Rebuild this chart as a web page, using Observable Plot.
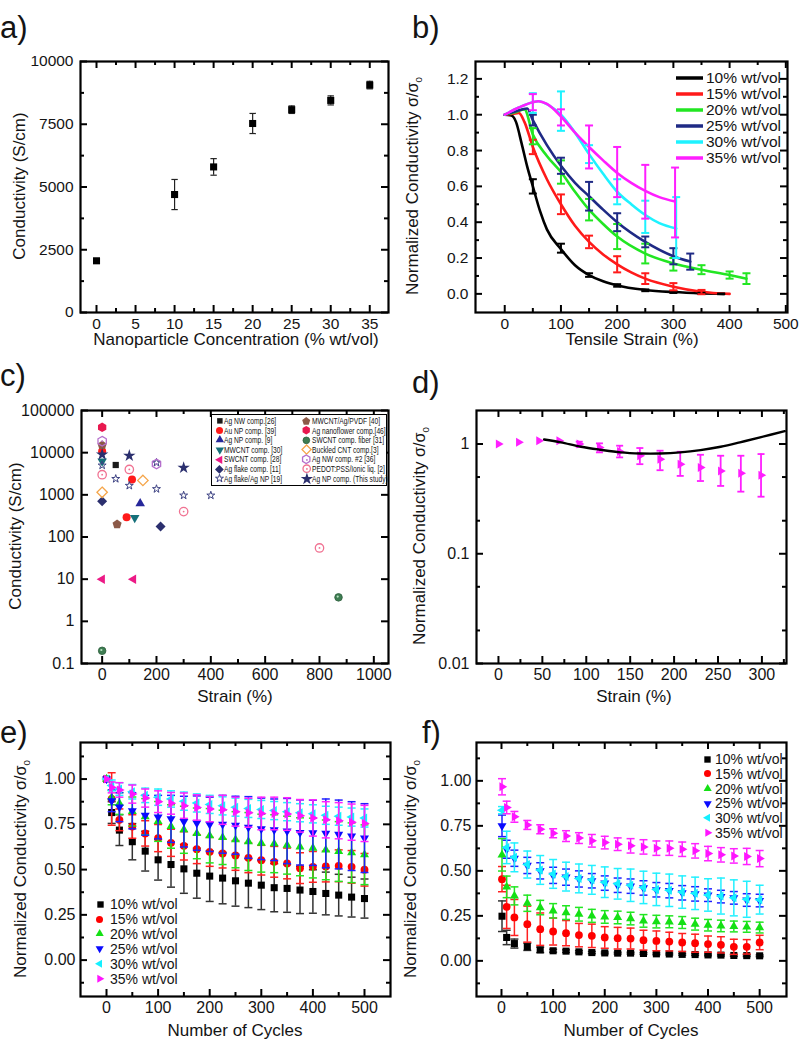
<!DOCTYPE html>
<html><head><meta charset="utf-8">
<script src="https://cdn.jsdelivr.net/npm/d3@7"></script>
<script src="https://cdn.jsdelivr.net/npm/@observablehq/plot@0.6"></script>
<style>
body{margin:0;background:#fff;}
#fig{position:relative;width:800px;height:1042px;font-family:"Liberation Sans",Arial,sans-serif;color:#141414;overflow:hidden;background:#fff}
.t{position:absolute;white-space:nowrap;line-height:1}
</style></head><body><div id="fig"></div>
<script>
// ---------------- DATA ----------------
const seriesLabels = ["10% wt/vol","15% wt/vol","20% wt/vol","25% wt/vol","30% wt/vol","35% wt/vol"];

// (a) conductivity vs concentration
const aConc = [0, 10, 15, 20, 25, 30, 35];
const aCond = [2060, 4700, 5800, 7530, 8080, 8450, 9060];
const aErr  = [60, 600, 330, 400, 150, 180, 150];
const aXTicks = [0, 5, 10, 15, 20, 25, 30, 35];
const aYTicks = [0, 2500, 5000, 7500, 10000];

// (b) normalized conductivity vs tensile strain (fitted curves + error points)
const bStrain10 = [0, 12, 20, 30, 40, 50, 63, 75, 100, 125, 150, 175, 200, 250, 300, 350, 390];
const bNorm10   = [1.0, 0.995, 0.96, 0.84, 0.71, 0.60, 0.46, 0.36, 0.25, 0.16, 0.105, 0.07, 0.047, 0.022, 0.01, 0.003, 0.0];
const bStrain15 = [0, 15, 25, 35, 50, 75, 100, 125, 150, 175, 200, 225, 250, 300, 350, 400];
const bNorm15   = [1.0, 1.005, 1.01, 0.96, 0.82, 0.64, 0.50, 0.38, 0.29, 0.22, 0.165, 0.12, 0.085, 0.04, 0.012, 0.0];
const bStrain20 = [0, 20, 35, 50, 75, 100, 125, 150, 175, 200, 250, 300, 350, 400, 430];
const bNorm20   = [1.0, 1.015, 1.03, 0.89, 0.77, 0.68, 0.57, 0.47, 0.39, 0.32, 0.225, 0.17, 0.135, 0.105, 0.085];
const bStrain25 = [0, 20, 40, 50, 75, 100, 125, 150, 175, 200, 250, 300, 330];
const bNorm25   = [1.0, 1.02, 1.035, 0.97, 0.83, 0.715, 0.62, 0.545, 0.47, 0.40, 0.29, 0.21, 0.18];
const bStrain30 = [0, 25, 50, 60, 80, 100, 125, 150, 175, 200, 225, 250, 275, 305];
const bNorm30   = [1.0, 1.04, 1.07, 1.075, 1.05, 1.0, 0.90, 0.78, 0.67, 0.57, 0.50, 0.44, 0.395, 0.365];
const bStrain35 = [0, 25, 50, 60, 75, 100, 125, 150, 175, 200, 225, 250, 275, 303];
const bNorm35   = [1.0, 1.04, 1.07, 1.075, 1.06, 0.99, 0.90, 0.82, 0.745, 0.675, 0.62, 0.575, 0.54, 0.515];
const bErrX = [
  [50, 100, 150, 200, 250, 300, 350, 385],
  [50, 100, 150, 200, 250, 300, 350],
  [50, 100, 150, 200, 250, 300, 350, 400, 430],
  [50, 100, 150, 200, 250, 300, 330],
  [50, 100, 150, 200, 250, 305],
  [50, 100, 150, 200, 250, 303]
];
const bErrY = [
  [0.60, 0.255, 0.105, 0.047, 0.02, 0.01, 0.003, 0.0],
  [0.82, 0.50, 0.29, 0.165, 0.085, 0.04, 0.01],
  [0.88, 0.68, 0.47, 0.32, 0.225, 0.165, 0.135, 0.105, 0.085],
  [0.97, 0.715, 0.545, 0.40, 0.29, 0.21, 0.18],
  [1.065, 1.02, 0.78, 0.57, 0.43, 0.37],
  [1.07, 0.985, 0.82, 0.68, 0.57, 0.51]
];
const bErrSd = [
  [0.04, 0.025, 0.01, 0.007, 0.005, 0.005, 0.003, 0.002],
  [0.04, 0.055, 0.035, 0.045, 0.03, 0.02, 0.012],
  [0.045, 0.065, 0.06, 0.07, 0.055, 0.035, 0.025, 0.02, 0.03],
  [0.03, 0.045, 0.08, 0.05, 0.03, 0.045, 0.045],
  [0.055, 0.11, 0.05, 0.07, 0.09, 0.17],
  [0.045, 0.045, 0.12, 0.14, 0.15, 0.195]
];

// (c) literature comparison
const cLabels = ["Ag NW comp.[26]", "Au NP comp. [39]", "Ag NP comp. [9]", "MWCNT comp. [30]", "SWCNT comp. [28]",
  "Ag flake comp. [11]", "Ag flake/Ag NP [19]", "MWCNT/Ag/PVDF [40]", "Ag nanoflower comp.[46]", "SWCNT comp. fiber [31]",
  "Buckled CNT comp.[3]", "Ag NW comp. #2 [36]", "PEDOT:PSS/Ionic liq. [2]", "Ag NP comp. (This study)"];
const cStrain = [[50], [0, 110, 90], [140], [0, 120], [0, 115], [0, 215], [0, 50, 100, 200, 200, 300, 400],
  [0, 55], [0], [0, 870], [0, 150], [0, 200], [0, 100, 300, 800], [0, 100, 300]];
const cCond = [[5100], [10800, 2300, 295], [620], [6300, 285], [10, 10], [700, 178], [5000, 2400, 1650, 5800, 1380, 970, 970],
  [15000, 200], [40000], [0.2, 3.7], [1150, 2200], [18700, 5400], [3000, 4000, 400, 55], [9000, 8500, 4400]];
const cXTicks = [0, 200, 400, 600, 800, 1000];
const cYTicks = [0.1, 1, 10, 100, 1000, 10000, 100000];

// (d) model vs measurement
const dStrain = [0, 23, 46, 69, 92, 115, 138, 161, 184, 207, 230, 253, 276, 299];
const dNorm   = [1.0, 1.036, 1.073, 1.073, 1.0, 0.93, 0.856, 0.78, 0.728, 0.655, 0.611, 0.569, 0.542, 0.52];
const dLow    = [1.0, 1.036, 1.073, 1.073, 0.945, 0.839, 0.755, 0.655, 0.577, 0.512, 0.46, 0.415, 0.368, 0.331];
const dHigh   = [1.0, 1.036, 1.073, 1.073, 1.05, 1.014, 0.965, 0.919, 0.869, 0.85, 0.798, 0.782, 0.782, 0.81];
const dModelStrain = [52, 71, 94, 116, 139, 162, 184, 207, 230, 253, 275, 298, 326];
const dModelNorm   = [1.10, 1.036, 0.945, 0.887, 0.839, 0.82, 0.82, 0.839, 0.88, 0.945, 1.036, 1.15, 1.31];

// (e) cycling, series
const eCycles = [0, 10, 25, 50, 75, 100, 125, 150, 175, 200, 225, 250, 275, 300, 325, 350, 375, 400, 425, 450, 475, 500];
const e10 = [1.0, 0.815, 0.718, 0.654, 0.602, 0.554, 0.528, 0.504, 0.48, 0.464, 0.453, 0.438, 0.425, 0.414, 0.40, 0.396, 0.387, 0.379, 0.368, 0.359, 0.348, 0.34];
const e10sd = [0, 0.06, 0.085, 0.10, 0.11, 0.112, 0.125, 0.135, 0.138, 0.14, 0.142, 0.14, 0.135, 0.135, 0.133, 0.132, 0.13, 0.12, 0.118, 0.115, 0.11, 0.108];
const e15 = [1.0, 0.89, 0.775, 0.738, 0.70, 0.674, 0.648, 0.631, 0.613, 0.598, 0.589, 0.578, 0.565, 0.552, 0.543, 0.534, 0.508, 0.515, 0.517, 0.521, 0.515, 0.499];
const e15sd = [0, 0.145, 0.06, 0.065, 0.07, 0.075, 0.075, 0.078, 0.08, 0.08, 0.08, 0.082, 0.082, 0.082, 0.085, 0.085, 0.085, 0.085, 0.085, 0.088, 0.09, 0.09];
const e20 = [1.0, 0.898, 0.865, 0.821, 0.792, 0.766, 0.738, 0.72, 0.70, 0.687, 0.678, 0.665, 0.655, 0.646, 0.643, 0.635, 0.626, 0.619, 0.609, 0.60, 0.593, 0.582];
const e20sd = [0, 0.04, 0.06, 0.08, 0.1, 0.11, 0.12, 0.13, 0.14, 0.15, 0.15, 0.155, 0.16, 0.16, 0.16, 0.16, 0.16, 0.165, 0.165, 0.165, 0.165, 0.165];
const e25 = [1.0, 0.88, 0.845, 0.825, 0.80, 0.79, 0.78, 0.765, 0.757, 0.75, 0.75, 0.745, 0.733, 0.725, 0.72, 0.713, 0.705, 0.703, 0.70, 0.694, 0.685, 0.674];
const e25sd = [0, 0.06, 0.08, 0.1, 0.11, 0.12, 0.13, 0.14, 0.15, 0.15, 0.16, 0.16, 0.17, 0.17, 0.17, 0.18, 0.18, 0.18, 0.19, 0.19, 0.19, 0.19];
const e30 = [1.0, 0.965, 0.945, 0.93, 0.91, 0.90, 0.89, 0.878, 0.868, 0.86, 0.852, 0.845, 0.838, 0.832, 0.826, 0.82, 0.814, 0.808, 0.80, 0.795, 0.79, 0.785];
const e30sd = [0, 0.03, 0.035, 0.04, 0.04, 0.045, 0.045, 0.05, 0.05, 0.05, 0.05, 0.05, 0.05, 0.05, 0.05, 0.05, 0.05, 0.05, 0.05, 0.05, 0.05, 0.05];
const e35 = [1.0, 0.954, 0.94, 0.917, 0.895, 0.875, 0.866, 0.853, 0.843, 0.834, 0.83, 0.82, 0.814, 0.81, 0.81, 0.807, 0.797, 0.785, 0.775, 0.77, 0.762, 0.755];
const e35sd = [0, 0.03, 0.04, 0.05, 0.05, 0.06, 0.06, 0.07, 0.07, 0.07, 0.08, 0.08, 0.08, 0.09, 0.09, 0.09, 0.09, 0.1, 0.1, 0.1, 0.1, 0.1];

// (f) cycling, series
const fCycles = [1, 10, 25, 50, 75, 100, 125, 150, 175, 200, 225, 250, 275, 300, 325, 350, 375, 400, 425, 450, 475, 500];
const f10 = [0.248, 0.13, 0.096, 0.078, 0.061, 0.056, 0.054, 0.05, 0.046, 0.044, 0.043, 0.043, 0.041, 0.039, 0.038, 0.036, 0.035, 0.033, 0.032, 0.03, 0.029, 0.028];
const f10sd = [0.085, 0.04, 0.025, 0.02, 0.015, 0.008, 0.007, 0.006, 0.006, 0.005, 0.005, 0.005, 0.005, 0.005, 0.005, 0.005, 0.005, 0.005, 0.005, 0.005, 0.005, 0.005];
const f15 = [0.454, 0.30, 0.241, 0.204, 0.176, 0.163, 0.154, 0.143, 0.139, 0.13, 0.126, 0.124, 0.115, 0.111, 0.107, 0.102, 0.098, 0.093, 0.089, 0.078, 0.078, 0.102];
const f15sd = [0.07, 0.12, 0.1, 0.1, 0.09, 0.075, 0.07, 0.065, 0.065, 0.06, 0.06, 0.058, 0.055, 0.055, 0.052, 0.05, 0.05, 0.045, 0.045, 0.042, 0.04, 0.04];
const f20 = [0.589, 0.411, 0.361, 0.32, 0.296, 0.278, 0.268, 0.259, 0.25, 0.244, 0.241, 0.235, 0.222, 0.218, 0.217, 0.213, 0.204, 0.198, 0.194, 0.191, 0.189, 0.185];
const f20sd = [0.09, 0.06, 0.05, 0.045, 0.04, 0.04, 0.038, 0.038, 0.036, 0.035, 0.035, 0.035, 0.035, 0.035, 0.033, 0.033, 0.033, 0.032, 0.032, 0.03, 0.03, 0.03];
const f25 = [0.75, 0.62, 0.57, 0.53, 0.50, 0.475, 0.465, 0.455, 0.445, 0.432, 0.42, 0.415, 0.405, 0.395, 0.39, 0.378, 0.372, 0.365, 0.357, 0.35, 0.338, 0.335];
const f25sd = [0.06, 0.05, 0.045, 0.045, 0.045, 0.045, 0.045, 0.045, 0.04, 0.04, 0.04, 0.04, 0.04, 0.04, 0.04, 0.04, 0.04, 0.035, 0.035, 0.035, 0.035, 0.035];
const f30 = [0.837, 0.63, 0.575, 0.535, 0.505, 0.483, 0.468, 0.458, 0.45, 0.437, 0.428, 0.42, 0.408, 0.397, 0.392, 0.382, 0.375, 0.366, 0.36, 0.35, 0.342, 0.34];
const f30sd = [0.02, 0.09, 0.08, 0.075, 0.08, 0.08, 0.08, 0.08, 0.08, 0.085, 0.085, 0.09, 0.09, 0.09, 0.09, 0.09, 0.09, 0.09, 0.1, 0.1, 0.1, 0.08];
const f35 = [0.967, 0.852, 0.80, 0.755, 0.731, 0.709, 0.693, 0.682, 0.667, 0.657, 0.648, 0.639, 0.633, 0.626, 0.626, 0.62, 0.611, 0.596, 0.589, 0.583, 0.58, 0.568];
const f35sd = [0.045, 0.035, 0.03, 0.025, 0.025, 0.025, 0.03, 0.03, 0.035, 0.035, 0.035, 0.04, 0.04, 0.04, 0.04, 0.04, 0.04, 0.04, 0.04, 0.04, 0.045, 0.045];

// ---------------- HELPERS ----------------
const fig = document.getElementById("fig");
const FONT = '"Liberation Sans", Arial, sans-serif';
function poly(n, rot, scale = 1) {
  return {draw(ctx, size) {
    const r = Math.sqrt(size / Math.PI) * scale;
    for (let k = 0; k < n; k++) {
      const a = rot + k * 2 * Math.PI / n, px = r * Math.cos(a), py = r * Math.sin(a);
      if (k === 0) ctx.moveTo(px, py); else ctx.lineTo(px, py);
    }
    ctx.closePath();
  }};
}
const SYM = {
  triUp: poly(3, -Math.PI / 2), triDown: poly(3, Math.PI / 2), triLeft: poly(3, Math.PI), triRight: poly(3, 0),
  pentagon: poly(5, -Math.PI / 2), hexagon: poly(6, -Math.PI / 2), diamond: poly(4, -Math.PI / 2), square: poly(4, Math.PI / 4),
  circle: d3.symbolCircle, star: d3.symbolStar,
  cap: {draw(ctx, size) { const r = Math.sqrt(size / Math.PI); ctx.moveTo(-r, 0); ctx.lineTo(r, 0); }}
};
const str = d => String(d);

// inward frame ticks on all four sides, lengths converted from pixels through the scale domains
function frameMarks(cfg) {
  const {w, h, m, xdom, ydom, xlog = false, ylog = false, xMaj, xMin, yMaj, yMin, xFmt, yFmt, xPad = 5, yPad = 7, fs = 15.5} = cfg;
  const iw = w - m.left - m.right, ih = h - m.top - m.bottom;
  const fx = xlog ? Math.log10 : v => v, gx = xlog ? v => 10 ** v : v => v;
  const fy = ylog ? Math.log10 : v => v, gy = ylog ? v => 10 ** v : v => v;
  const [xa, xb] = xdom.map(fx), [ya, yb] = ydom.map(fy);
  const kx = (xb - xa) / iw, ky = (yb - ya) / ih;
  const st = {stroke: "#000", strokeWidth: 2};
  const out = [];
  for (const [vals, L] of [[xMaj, 7], [xMin, 4]]) {
    out.push(Plot.ruleX(vals, {x: d => d, y1: () => ydom[0], y2: () => gy(ya + L * ky), ...st}));
    out.push(Plot.ruleX(vals, {x: d => d, y1: () => gy(yb - L * ky), y2: () => ydom[1], ...st}));
  }
  for (const [vals, L] of [[yMaj, 7], [yMin, 4]]) {
    out.push(Plot.ruleY(vals, {y: d => d, x1: () => xdom[0], x2: () => gx(xa + L * kx), ...st}));
    out.push(Plot.ruleY(vals, {y: d => d, x1: () => gx(xb - L * kx), x2: () => xdom[1], ...st}));
  }
  out.push(Plot.axisX(xMaj, {tickSize: 0, tickPadding: xPad, tickFormat: xFmt, label: null, fontSize: fs}));
  out.push(Plot.axisY(yMaj, {tickSize: 0, tickPadding: yPad, tickFormat: yFmt, label: null, fontSize: fs}));
  out.push(Plot.frame({stroke: "#000", strokeWidth: 2.2}));
  return out;
}
function errBars(data, color, capR, sw = 1.4) {
  const d = data.filter(p => p.e > 0);
  return [
    Plot.ruleX(d, {x: "x", y1: p => p.y - p.e, y2: p => p.y + p.e, stroke: color, strokeWidth: sw}),
    Plot.dot(d, {x: "x", y: p => p.y - p.e, symbol: SYM.cap, r: capR, stroke: color, fill: "none", strokeWidth: sw}),
    Plot.dot(d, {x: "x", y: p => p.y + p.e, symbol: SYM.cap, r: capR, stroke: color, fill: "none", strokeWidth: sw})
  ];
}
function mount(svg, left, top) {
  svg.style.position = "absolute"; svg.style.left = left + "px"; svg.style.top = top + "px";
  fig.appendChild(svg);
}
function text(html, x, y, {size = 17, rotate = false, anchor = "middle"} = {}) {
  const el = document.createElement("div");
  el.className = "t"; el.innerHTML = html; el.style.fontSize = size + "px";
  el.style.left = x + "px"; el.style.top = y + "px";
  if (rotate) el.style.transform = "translate(-50%,-50%) rotate(-90deg)";
  else if (anchor === "middle") el.style.transform = "translate(-50%,-50%)";
  else if (anchor === "start") el.style.transform = "translate(0,-50%)";
  else el.style.transform = "none";
  fig.appendChild(el);
  return el;
}
function marker(x, y, sym, r, fill, stroke, sw = 1) {
  const s = d3.create("svg").attr("width", 2 * r + 8).attr("height", 2 * r + 8)
    .style("position", "absolute").style("left", (x - r - 4) + "px").style("top", (y - r - 4) + "px").style("overflow", "visible");
  s.append("path").attr("transform", `translate(${r + 4},${r + 4})`).attr("d", d3.symbol(sym, Math.PI * r * r)())
    .attr("fill", fill).attr("stroke", stroke).attr("stroke-width", sw);
  fig.appendChild(s.node());
  return s;
}
const baseStyle = {fontFamily: FONT, fontSize: "15.5px", color: "#141414", background: "transparent", overflow: "visible"};
const SIGMA = 'Normalized Conductivity <span style="font-size:0.95em">σ/σ<sub style="font-size:0.6em">0</sub></span>';

// ---------------- PANEL A ----------------
{
  const w = 400, h = 345, m = {top: 61, right: 12, bottom: 33, left: 80};
  const xdom = [-2.05, 37.4], ydom = [0, 10000];
  const data = aConc.map((x, i) => ({x, y: aCond[i], e: aErr[i]}));
  const svg = Plot.plot({
    width: w, height: h, marginTop: m.top, marginRight: m.right, marginBottom: m.bottom, marginLeft: m.left,
    style: baseStyle, x: {domain: xdom}, y: {domain: ydom},
    marks: [
      ...frameMarks({w, h, m, xdom, ydom, xMaj: aXTicks, xMin: [2.5, 7.5, 12.5, 17.5, 22.5, 27.5, 32.5], yMaj: aYTicks, yMin: [1250, 3750, 6250, 8750], xFmt: str, yFmt: str}),
      ...errBars(data, "#222", 3.2, 1.2),
      Plot.dot(data, {x: "x", y: "y", symbol: SYM.square, r: 5, fill: "#000", stroke: "none"})
    ]
  });
  mount(svg, 0, 0);
  text("a)", 0, 12, {size: 31, anchor: "none"});
  text("Nanoparticle Concentration (% wt/vol)", 236, 339);
  text("Conductivity (S/cm)", 19, 186, {rotate: true});
}

// ---------------- PANEL B ----------------
const bColors = ["#000000", "#ff1a1a", "#22e622", "#1f2a85", "#1ef2ff", "#ff1eff"];
{
  const w = 400, h = 345, m = {top: 61, right: 13, bottom: 33, left: 75};
  const xdom = [-52, 503], ydom = [-0.104, 1.297];
  const curves = [[bStrain10, bNorm10], [bStrain15, bNorm15], [bStrain20, bNorm20], [bStrain25, bNorm25], [bStrain30, bNorm30], [bStrain35, bNorm35]];
  const marks = [...frameMarks({w, h, m, xdom, ydom, xMaj: [0, 100, 200, 300, 400, 500], xMin: [50, 150, 250, 350, 450],
    yMaj: [0, 0.2, 0.4, 0.6, 0.8, 1.0, 1.2], yMin: [0.1, 0.3, 0.5, 0.7, 0.9, 1.1], xFmt: str, yFmt: d3.format(".1f")})];
  curves.forEach(([xs, ys], k) => {
    marks.push(Plot.line(xs.map((x, i) => ({x, y: ys[i]})), {x: "x", y: "y", stroke: bColors[k], strokeWidth: 2.6, curve: "monotone-x"}));
  });
  curves.forEach((c, k) => {
    const ed = bErrX[k].map((x, i) => ({x, y: bErrY[k][i], e: bErrSd[k][i]}));
    marks.push(...errBars(ed, bColors[k], 4, 2));
  });
  const svg = Plot.plot({width: w, height: h, marginTop: m.top, marginRight: m.right, marginBottom: m.bottom, marginLeft: m.left,
    style: baseStyle, x: {domain: xdom}, y: {domain: ydom}, marks});
  mount(svg, 400, 0);
  text("b)", 412, 12, {size: 31, anchor: "none"});
  text("Tensile Strain (%)", 632, 339);
  text(SIGMA, 414, 186, {rotate: true});
  seriesLabels.forEach((lab, i) => {
    const y = 77.7 + 16.1 * i;
    const s = d3.create("svg").attr("width", 30).attr("height", 6).style("position", "absolute").style("left", "675px").style("top", (y - 3) + "px");
    s.append("line").attr("x1", 1).attr("x2", 28).attr("y1", 3).attr("y2", 3).attr("stroke", bColors[i]).attr("stroke-width", 3.5);
    fig.appendChild(s.node());
    text(lab, 706, y, {size: 15.5, anchor: "start"});
  });
}

// ---------------- PANEL C ----------------
const cStyle = [
  {sym: SYM.square, r: 4.4, fill: "#1a1a1a", stroke: "none"},
  {sym: SYM.circle, r: 4, fill: "#ff1a1a", stroke: "none"},
  {sym: SYM.triUp, r: 5.5, fill: "#26279a", stroke: "none"},
  {sym: SYM.triDown, r: 5.5, fill: "#16707a", stroke: "none"},
  {sym: SYM.triLeft, r: 5.5, fill: "#ec1a86", stroke: "none"},
  {sym: SYM.diamond, r: 5, fill: "#2b2f6e", stroke: "none"},
  {sym: SYM.star, r: 2.5, fill: "none", stroke: "#3d4283", sw: 1},
  {sym: SYM.pentagon, r: 4.8, fill: "#8c5a48", stroke: "none"},
  {sym: SYM.hexagon, r: 4.8, fill: "#e8184f", stroke: "none"},
  {sym: SYM.circle, r: 3.8, fill: "#3e7d52", stroke: "#2d5e3c", sw: 0.8},
  {sym: SYM.diamond, r: 5.2, fill: "none", stroke: "#f5a54a", sw: 1.3},
  {sym: SYM.hexagon, r: 4.8, fill: "none", stroke: "#b56fcc", sw: 1.3},
  {sym: SYM.circle, r: 4.2, fill: "none", stroke: "#f07292", sw: 1.3},
  {sym: SYM.star, r: 3.9, fill: "#2b2f6e", stroke: "none"}
];
{
  const w = 400, h = 345, m = {top: 65, right: 12, bottom: 27, left: 81};
  const xdom = [-76, 1054], ydom = [0.1, 100000];
  const marks = [...frameMarks({w, h, m, xdom, ydom, ylog: true, xMaj: cXTicks, xMin: [100, 300, 500, 700, 900],
    yMaj: cYTicks, yMin: [], xFmt: str, yFmt: str, fs: 16})];
  cLabels.forEach((lab, k) => {
    const st = cStyle[k];
    const d = cStrain[k].map((x, i) => ({x, y: cCond[k][i]}));
    marks.push(Plot.dot(d, {x: "x", y: "y", symbol: st.sym, r: st.r, fill: st.fill, stroke: st.stroke, strokeWidth: st.sw || 1}));
    if (k === 11 || k === 12) marks.push(Plot.dot(d, {x: "x", y: "y", r: 0.9, fill: st.stroke}));
    if (k === 9) marks.push(Plot.dot(d, {x: "x", y: "y", r: 1.1, fill: "#b9e3c2", dx: -0.8, dy: -0.8}));
  });
  const svg = Plot.plot({width: w, height: h, marginTop: m.top, marginRight: m.right, marginBottom: m.bottom, marginLeft: m.left,
    style: baseStyle, x: {domain: xdom}, y: {type: "log", domain: ydom}, marks});
  mount(svg, 0, 345);
  text("c)", 0, 360, {size: 31, anchor: "none"});
  text("Strain (%)", 235, 696);
  text("Conductivity (S/cm)", 15, 536, {rotate: true});
  // legend box
  const box = document.createElement("div");
  Object.assign(box.style, {position: "absolute", left: "211px", top: "414px", width: "174px", height: "70px", border: "1.5px solid #000", background: "#fff"});
  fig.appendChild(box);
  cLabels.forEach((lab, k) => {
    const col = k < 7 ? 0 : 1, row = k % 7;
    const y = 421 + 9.6 * row;
    const mx = col === 0 ? 219.5 : 306.5, tx = col === 0 ? 223.5 : 311.5;
    const st = cStyle[k];
    const scale = (k === 13 || k === 6) ? 1.0 : 0.88;
    marker(mx, y, st.sym, st.r * scale, st.fill, st.stroke, st.sw || 1);
    if (k === 11 || k === 12) marker(mx, y, SYM.circle, 0.9, st.stroke, "none");
    const t = text(lab, tx, y, {size: 9, anchor: "start"});
    t.style.transformOrigin = "0 50%";
    t.style.transform = "translate(0,-50%) scaleX(0.74)";
  });
}

// ---------------- PANEL D ----------------
{
  const w = 400, h = 345, m = {top: 65, right: 14, bottom: 27, left: 76};
  const xdom = [-25, 328], ydom = [0.01, 2.02];
  const data = dStrain.map((x, i) => ({x, y: dNorm[i], lo: dLow[i], hi: dHigh[i]}));
  const bars = data.filter(p => p.hi - p.lo > 0.02);
  const marks = [...frameMarks({w, h, m, xdom, ydom, ylog: true, xMaj: [0, 50, 100, 150, 200, 250, 300], xMin: [25, 75, 125, 175, 225, 275, 325],
    yMaj: [0.01, 0.1, 1], yMin: [0.02, 0.05, 0.2, 0.5], xFmt: str, yFmt: str, fs: 16}),
    Plot.ruleX(bars, {x: "x", y1: "lo", y2: "hi", stroke: "#ff1eff", strokeWidth: 1.8}),
    Plot.dot(bars, {x: "x", y: "lo", symbol: SYM.cap, r: 3.5, stroke: "#ff1eff", fill: "none", strokeWidth: 1.8}),
    Plot.dot(bars, {x: "x", y: "hi", symbol: SYM.cap, r: 3.5, stroke: "#ff1eff", fill: "none", strokeWidth: 1.8}),
    Plot.dot(data, {x: "x", y: "y", symbol: SYM.triRight, r: 5.2, fill: "#ff1eff", stroke: "none"}),
    Plot.line(dModelStrain.map((x, i) => ({x, y: dModelNorm[i]})), {x: "x", y: "y", stroke: "#000", strokeWidth: 2.4, curve: "catmull-rom"})
  ];
  const svg = Plot.plot({width: w, height: h, marginTop: m.top, marginRight: m.right, marginBottom: m.bottom, marginLeft: m.left,
    style: baseStyle, x: {domain: xdom}, y: {type: "log", domain: ydom}, marks});
  mount(svg, 400, 345);
  text("d)", 412, 367, {size: 31, anchor: "none"});
  text("Strain (%)", 634, 696);
  text(SIGMA, 421, 536, {rotate: true});
}

// ---------------- PANELS E & F ----------------
const efColors = ["#000000", "#ff0000", "#14e014", "#0a0aff", "#14f0ff", "#ff14ff"];
const efBarColors = ["#333333", "#ff2020", "#22e622", "#2020ff", "#22f0ff", "#ff22ff"];
const efSyms = [[SYM.square, 5], [SYM.circle, 3.9], [SYM.triUp, 5.2], [SYM.triDown, 5.2], [SYM.triLeft, 5.2], [SYM.triRight, 5.2]];
function cyclePanel(cycles, vals, sds, left, m, xdom, ydom) {
  const w = 400, h = 352;
  const marks = [...frameMarks({w, h, m, xdom, ydom, xMaj: [0, 100, 200, 300, 400, 500], xMin: [50, 150, 250, 350, 450],
    yMaj: [0, 0.25, 0.5, 0.75, 1.0], yMin: [-0.125, 0.125, 0.375, 0.625, 0.875, 1.125], xFmt: str, yFmt: d3.format(".2f"), fs: 16, yPad: 5})];
  vals.forEach((v, k) => {
    const d = cycles.map((x, i) => ({x, y: v[i], e: sds[k][i]}));
    marks.push(...errBars(d, efBarColors[k], 4, 1.5));
    marks.push(Plot.dot(d, {x: "x", y: "y", symbol: efSyms[k][0], r: efSyms[k][1], fill: efColors[k], stroke: "none"}));
  });
  const svg = Plot.plot({width: w, height: h, marginTop: m.top, marginRight: m.right, marginBottom: m.bottom, marginLeft: m.left,
    style: baseStyle, x: {domain: xdom}, y: {domain: ydom}, marks});
  mount(svg, left, 690);
}
cyclePanel(eCycles, [e10, e15, e20, e25, e30, e35], [e10sd, e15sd, e20sd, e25sd, e30sd, e35sd], 0,
  {top: 52, right: 10, bottom: 46, left: 80}, [-50.4, 550.4], [-0.201, 1.202]);
cyclePanel(fCycles, [f10, f15, f20, f25, f30, f35], [f10sd, f15sd, f20sd, f25sd, f30sd, f35sd], 400,
  {top: 52, right: 14, bottom: 46, left: 76}, [-48.4, 552], [-0.198, 1.213]);
text("e)", 0, 717, {size: 31, anchor: "none"});
text("f)", 422, 717, {size: 31, anchor: "none"});
text("Number of Cycles", 235, 1030);
text("Number of Cycles", 631, 1030);
text(SIGMA, 22, 869, {rotate: true});
text(SIGMA, 412, 869, {rotate: true});
seriesLabels.forEach((lab, i) => {
  const ye = 904.3 + 14.9 * i, yf = 759.3 + 14.7 * i;
  marker(100, ye, efSyms[i][0], efSyms[i][1] * 0.9, efColors[i], "none");
  text(lab, 110, ye, {size: 14, anchor: "start"});
  marker(707.3, yf, efSyms[i][0], efSyms[i][1] * 0.9, efColors[i], "none");
  text(lab, 715, yf, {size: 14, anchor: "start"});
});
</script></body></html>
